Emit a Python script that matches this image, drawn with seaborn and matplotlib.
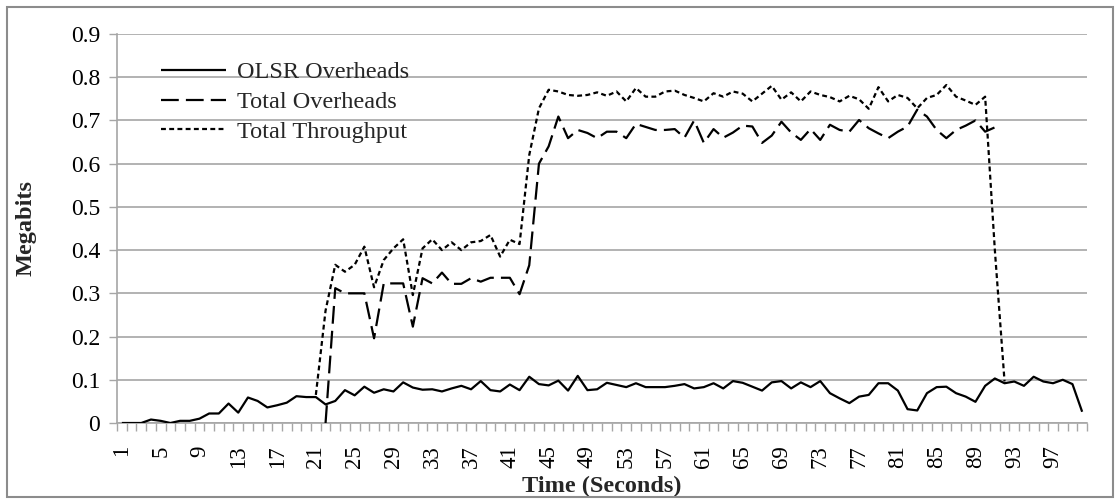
import numpy as np
import pandas as pd
import matplotlib
matplotlib.use("Agg")
import matplotlib.pyplot as plt
from matplotlib.patches import Rectangle
from matplotlib.ticker import FixedLocator, FuncFormatter
import seaborn as sns

# ---- data (Megabits per second of simulation time) ----
time_s = list(range(1, 101))

olsr_overheads = [
    0.000, 0.000, 0.000, 0.008, 0.005, 0.000, 0.005, 0.005, 0.010, 0.022,
    0.022, 0.045, 0.024, 0.059, 0.051, 0.036, 0.041, 0.047, 0.062, 0.060,
    0.060, 0.043, 0.051, 0.076, 0.064, 0.084, 0.070, 0.078, 0.073, 0.094,
    0.082, 0.077, 0.078, 0.073, 0.080, 0.086, 0.078, 0.097, 0.076, 0.073,
    0.089, 0.076, 0.107, 0.090, 0.087, 0.098, 0.075, 0.109, 0.076, 0.078,
    0.093, 0.088, 0.083, 0.092, 0.083, 0.083, 0.083, 0.086, 0.090, 0.080,
    0.083, 0.092, 0.080, 0.097, 0.093, 0.084, 0.075, 0.094, 0.097, 0.080,
    0.094, 0.083, 0.097, 0.069, 0.057, 0.046, 0.061, 0.065, 0.092, 0.092,
    0.075, 0.032, 0.029, 0.069, 0.083, 0.084, 0.069, 0.061, 0.049, 0.086,
    0.103, 0.092, 0.096, 0.086, 0.107, 0.096, 0.092, 0.100, 0.090, 0.026,
]

# Total overheads are recorded from t = 22 s to t = 91 s
overheads_start = 22
total_overheads = [
    0.000, 0.312, 0.300, 0.300, 0.300, 0.196, 0.323, 0.323, 0.323, 0.223,
    0.335, 0.323, 0.348, 0.322, 0.322, 0.335, 0.327, 0.336, 0.336, 0.336,
    0.298, 0.365, 0.600, 0.640, 0.709, 0.659, 0.678, 0.671, 0.659, 0.674,
    0.674, 0.659, 0.692, 0.685, 0.678, 0.678, 0.680, 0.660, 0.700, 0.648,
    0.680, 0.660, 0.672, 0.688, 0.686, 0.648, 0.665, 0.697, 0.672, 0.655,
    0.680, 0.655, 0.690, 0.678, 0.674, 0.701, 0.682, 0.670, 0.659, 0.674,
    0.686, 0.725, 0.709, 0.678, 0.659, 0.678, 0.688, 0.700, 0.674, 0.684,
]

# Total throughput is recorded from t = 21 s to t = 92 s
throughput_start = 21
total_throughput = [
    0.065, 0.260, 0.366, 0.350, 0.366, 0.408, 0.314, 0.377, 0.404, 0.425,
    0.296, 0.404, 0.425, 0.400, 0.418, 0.400, 0.418, 0.421, 0.435, 0.385,
    0.424, 0.414, 0.620, 0.728, 0.771, 0.767, 0.759, 0.757, 0.759, 0.765,
    0.757, 0.767, 0.744, 0.775, 0.755, 0.755, 0.767, 0.769, 0.759, 0.752,
    0.744, 0.763, 0.755, 0.767, 0.762, 0.744, 0.762, 0.780, 0.748, 0.765,
    0.744, 0.767, 0.759, 0.754, 0.744, 0.757, 0.749, 0.727, 0.777, 0.744,
    0.759, 0.752, 0.728, 0.752, 0.759, 0.782, 0.755, 0.746, 0.736, 0.755,
    0.400, 0.096,
]

series_names = ["OLSR Overheads", "Total Overheads", "Total Throughput"]
y_ticks = [0.0, 0.1, 0.2, 0.3, 0.4, 0.5, 0.6, 0.7, 0.8, 0.9]
x_label_times = list(range(1, 101, 4))

# ---- long-form table ----
frames = [
    pd.DataFrame({"Time": time_s, "Megabits": olsr_overheads,
                  "Series": series_names[0]}),
    pd.DataFrame({"Time": list(range(overheads_start,
                                     overheads_start + len(total_overheads))),
                  "Megabits": total_overheads, "Series": series_names[1]}),
    pd.DataFrame({"Time": list(range(throughput_start,
                                     throughput_start + len(total_throughput))),
                  "Megabits": total_throughput, "Series": series_names[2]}),
]
df = pd.concat(frames, ignore_index=True)

# ---- style ----
sns.set_theme(style="white")
plt.rcParams["font.family"] = ["Liberation Serif", "DejaVu Serif"]
plt.rcParams["lines.solid_capstyle"] = "butt"
plt.rcParams["lines.dash_capstyle"] = "butt"

W, H = 1115, 499
fig = plt.figure(figsize=(W / 100, H / 100), dpi=100)
fig.patch.set_facecolor("white")

left_px, right_px, top_px, bottom_px = 117, 1087, 34, 423
ax = fig.add_axes([left_px / W, 1 - bottom_px / H,
                   (right_px - left_px) / W, (bottom_px - top_px) / H])
ax.set_facecolor("white")

grid_gray = "#a6a6a6"
line_styles = {
    "OLSR Overheads": "-",
    "Total Overheads": (0, (8.0, 3.2)),
    "Total Throughput": (0, (2.2, 1.5)),
}
for name in series_names:
    sub = df[df["Series"] == name]
    sns.lineplot(data=sub, x="Time", y="Megabits", ax=ax, color="black",
                 linewidth=1.6, linestyle=line_styles[name], label=name,
                 estimator=None, sort=False, zorder=3)

# axes limits and ticks
ax.set_xlim(0.5, 100.5)
ax.set_ylim(0, 0.9)
ax.yaxis.set_major_locator(FixedLocator(y_ticks))
ax.yaxis.set_major_formatter(
    FuncFormatter(lambda v, p: "0" if abs(v) < 1e-9 else f"{v:.1f}"))
ax.xaxis.set_major_locator(FixedLocator(x_label_times))
ax.xaxis.set_major_formatter(FuncFormatter(lambda v, p: f"{int(round(v))}"))
ax.xaxis.set_minor_locator(FixedLocator(np.arange(0.5, 101, 1.0)))

ax.tick_params(axis="y", which="major", direction="out", length=6,
               width=1.0, color=grid_gray, labelsize=17, pad=6,
               labelcolor="black", left=True)
ax.tick_params(axis="x", which="major", length=0, labelsize=16.5,
               labelrotation=90, pad=16, labelcolor="black", bottom=True)
ax.tick_params(axis="x", which="minor", direction="out", length=6,
               width=1.0, color=grid_gray, bottom=True)

ax.yaxis.grid(True, color=grid_gray, linewidth=1.2)
ax.xaxis.grid(False)
ax.set_axisbelow(True)

for side in ("top", "right"):
    ax.spines[side].set_visible(False)
for side in ("left", "bottom"):
    ax.spines[side].set_color(grid_gray)
    ax.spines[side].set_linewidth(1.2)

ax.set_xlabel("Time (Seconds)", fontsize=17.5, fontweight="bold")
ax.set_ylabel("Megabits", fontsize=17.5, fontweight="bold")
ax.xaxis.set_label_coords(0.5, -0.136)
ax.yaxis.set_label_coords(-0.0825, 0.5)

leg = ax.legend(loc="upper left", bbox_to_anchor=(0.035, 0.955),
                frameon=False, fontsize=17.5, handlelength=2.7,
                handletextpad=0.45, labelspacing=0.32, borderaxespad=0)
for line in leg.get_lines():
    line.set_linewidth(1.6)

# chart area border
fig.patches.append(Rectangle((7 / W, 2 / H), (1113 - 7) / W, (H - 7 - 2) / H,
                             transform=fig.transFigure, fill=False,
                             edgecolor="#8c8c8c", linewidth=1.5))

fig.savefig("out.png", dpi=100, facecolor="white")
